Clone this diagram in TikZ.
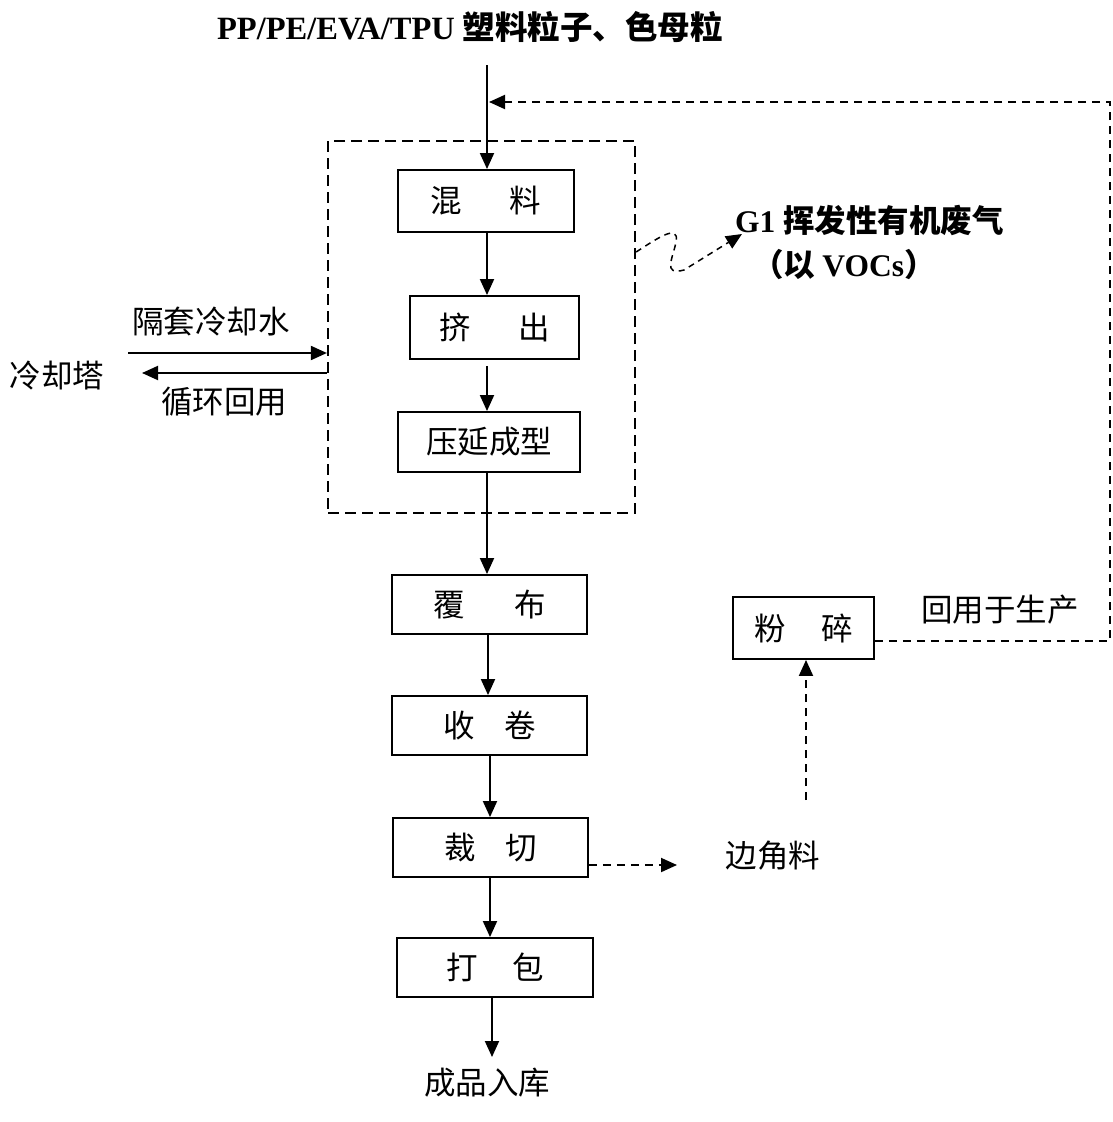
\documentclass[tikz,border=0pt]{standalone}
\usepackage{fontspec}
\setmainfont{Liberation Serif}
\newfontfamily\cjk{Noto Sans CJK SC}
\usetikzlibrary{arrows.meta}
\begin{document}
\begin{tikzpicture}[x=1pt,y=-1pt,
  txt/.style={font=\fontsize{31.5}{36}\selectfont\cjk, inner sep=0pt},
  box/.style={txt, draw, line width=1.9pt},
  arr/.style={line width=1.9pt, -{Triangle[length=16pt,width=14pt]}},
  darr/.style={arr, dash pattern=on 8pt off 6pt},
  grpbox/.style={draw, line width=2.2pt, dash pattern=on 11pt off 6pt}]
\useasboundingbox (0,0) rectangle (1113,1122);
\fill[white] (0,0) rectangle (1113,1122);

% title
\node[txt, font=\fontsize{32.5}{38}\selectfont\cjk] (title) at (470,27) {\bfseries\rmfamily PP/PE/EVA/TPU {\cjk 塑料粒子、色母粒}};

% group box
\node[grpbox, minimum width=307pt, minimum height=372pt, inner sep=0pt] (grp) at (481.5,327) {};

% process boxes
\node[box, minimum width=176pt, minimum height=62pt] (mix) at (486,201) {混\hspace{48pt}料};
\node[box, minimum width=169pt, minimum height=63pt] (ext) at (494.5,327.5) {挤\hspace{48pt}出};
\node[box, minimum width=182pt, minimum height=60pt] (cal) at (489,442) {压延成型};
\node[box, minimum width=195pt, minimum height=59pt] (cover) at (489.5,604.5) {覆\hspace{50pt}布};
\node[box, minimum width=195pt, minimum height=59pt] (wind) at (489.5,725.5) {收\hspace{30pt}卷};
\node[box, minimum width=195pt, minimum height=59pt] (cut) at (490.5,847.5) {裁\hspace{30pt}切};
\node[box, minimum width=196pt, minimum height=59pt] (pack) at (495,967.5) {打\hspace{35pt}包};
\node[box, minimum width=141pt, minimum height=62pt] (crush) at (803.5,628) {粉\hspace{35pt}碎};

% texts
\node[txt] (prod) at (487,1083) {成品入库};
\node[txt] (lbl1) at (211,322) {隔套冷却水};
\node[txt] (tower) at (57,376) {冷却塔};
\node[txt] (lbl2) at (224,402) {循环回用};
\node[txt, anchor=west] (g1) at (735,220) {\bfseries\rmfamily G1 {\cjk 挥发性有机废气}};
\node[txt, anchor=west] (voc) at (752,265) {\bfseries （以 {\rmfamily VOCs}）};
\node[txt] (scrap) at (773,856) {边角料};
\node[txt] (reuse) at (1000,610) {回用于生产};

% coordinates
\coordinate (in) at (487,65);
\coordinate (xa) at (487,0);
\coordinate (xb) at (488,0);
\coordinate (xc) at (490,0);
\coordinate (pe) at (492,1057);
\coordinate (r1) at (1110,641);
\coordinate (r2) at (1110,102);
\coordinate (r3) at (489,102);
\coordinate (c1s) at (128,353);
\coordinate (c2e) at (142,373);
\coordinate (w0) at (634,252);
\coordinate (w1) at (742,234);
\coordinate (e1) at (677,865);
\coordinate (u0) at (806,800);

% main flow
\draw[arr] (in) -- (mix.north -| in);
\draw[arr] (mix.south -| xa) -- (ext.north -| xa);
\draw[arr] ([yshift=-6pt]ext.south -| xa) -- (cal.north -| xa);
\draw[arr] (cal.south -| xa) -- (cover.north -| xa);
\draw[arr] (cover.south -| xb) -- (wind.north -| xb);
\draw[arr] (wind.south -| xc) -- (cut.north -| xc);
\draw[arr] (cut.south -| xc) -- (pack.north -| xc);
\draw[arr] (pack.south -| pe) -- (pe);

% cooling water
\draw[arr] (c1s) -- (grp.west |- c1s);
\draw[arr] (grp.west |- c2e) -- (c2e);

% VOC emission
\draw[arr, line width=1.5pt, dash pattern=on 6pt off 5pt] (grp.east |- w0) .. controls (655,240) and (680,222) .. (676,242) .. controls (673,258) and (662,276) .. (684,270) -- (w1);

% scrap
\draw[darr] (cut.east |- e1) -- (e1);
\draw[darr] (u0) -- (crush.south -| u0);
\draw[darr] (crush.east |- r1) -- (r1) -- (r2) -- (r3);
\end{tikzpicture}
\end{document}
